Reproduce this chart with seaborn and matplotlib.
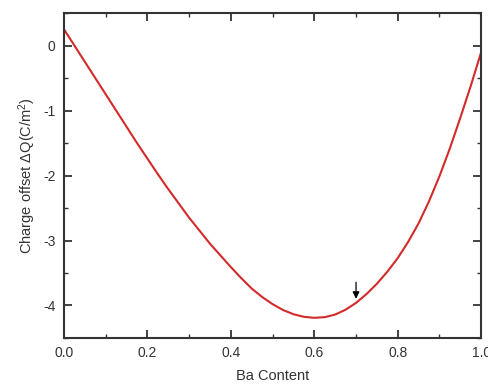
import pandas as pd
import seaborn as sns
import matplotlib
matplotlib.use('Agg')
import matplotlib.pyplot as plt
from matplotlib.ticker import MultipleLocator

# Values
ba_content = [0.000, 0.025, 0.050, 0.075, 0.100, 0.125, 0.150, 0.175, 0.200,
              0.225, 0.250, 0.275, 0.300, 0.325, 0.350, 0.375, 0.400, 0.425,
              0.450, 0.475, 0.500, 0.525, 0.550, 0.575, 0.600, 0.625, 0.650,
              0.675, 0.700, 0.725, 0.750, 0.775, 0.800, 0.825, 0.850, 0.875,
              0.900, 0.925, 0.950, 0.975, 1.000]
charge_offset = [0.25, 0.00, -0.25, -0.50, -0.75, -1.00, -1.25, -1.50, -1.74,
                 -1.98, -2.21, -2.43, -2.65, -2.85, -3.05, -3.23, -3.41, -3.58,
                 -3.74, -3.87, -3.98, -4.07, -4.135, -4.175, -4.19, -4.18, -4.14,
                 -4.065, -3.96, -3.825, -3.665, -3.48, -3.27, -3.02, -2.735, -2.395,
                 -2.01, -1.58, -1.11, -0.62, -0.10]
arrow_x = 0.70
arrow_from = -3.60
arrow_to = -3.94

df = pd.DataFrame({'Ba Content': ba_content, 'dQ': charge_offset})

sns.set_style('ticks')
plt.rcParams['font.family'] = ['Liberation Sans', 'DejaVu Sans']
plt.rcParams['axes.unicode_minus'] = False
plt.rcParams['mathtext.fontset'] = 'custom'
plt.rcParams['mathtext.rm'] = 'Liberation Sans'
plt.rcParams['mathtext.it'] = 'Liberation Sans'
plt.rcParams['mathtext.default'] = 'regular'

fig = plt.figure(figsize=(4.89, 3.88), dpi=100)
ax = fig.add_axes([0.131, 0.129, 0.853, 0.837])

sns.lineplot(data=df, x='Ba Content', y='dQ', color='#d42a2a', linewidth=1.5, ax=ax)

ax.annotate('', xy=(arrow_x, arrow_to), xytext=(arrow_x, arrow_from),
            arrowprops=dict(arrowstyle='-|>', color='black', lw=0.9,
                            mutation_scale=10))

ax.set_xlim(0, 1.0)
ax.set_ylim(-4.5, 0.5)
ax.xaxis.set_major_locator(MultipleLocator(0.2))
ax.xaxis.set_minor_locator(MultipleLocator(0.1))
ax.yaxis.set_major_locator(MultipleLocator(1))
ax.yaxis.set_minor_locator(MultipleLocator(0.5))
ax.xaxis.set_major_formatter(matplotlib.ticker.FormatStrFormatter('%.1f'))

ax.tick_params(which='both', direction='in', top=True, right=True,
               color='#333333', labelsize=10, labelcolor='#333333')
ax.tick_params(which='major', length=5.5, width=1.3, pad=6)
ax.tick_params(which='minor', length=3, width=1.0)
for sp in ax.spines.values():
    sp.set_color('#333333')
    sp.set_linewidth(1.5)

ax.set_xlabel('Ba Content', fontsize=10.5, color='#333333', labelpad=6)
ax.set_ylabel('Charge offset ΔQ(C/m$^2$)', fontsize=10.5,
              color='#333333', labelpad=4)

fig.savefig('out.png', dpi=100)
